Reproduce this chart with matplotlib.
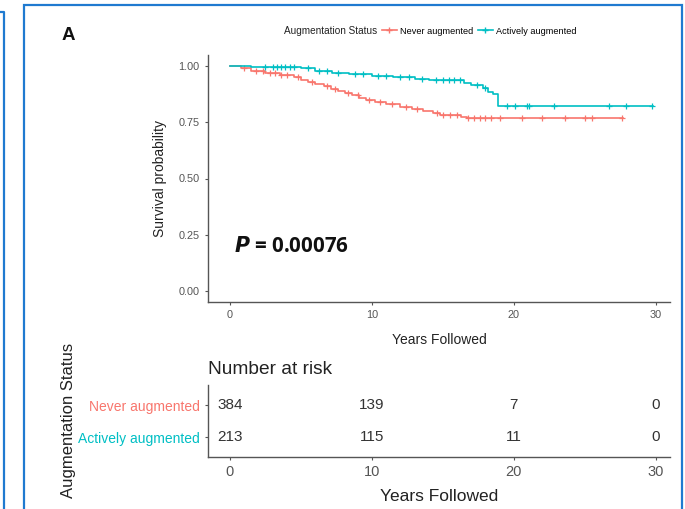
import matplotlib
matplotlib.use("Agg")
import matplotlib.pyplot as plt
from matplotlib.lines import Line2D
from matplotlib.patches import Rectangle

plt.rcParams['font.family'] = ['Liberation Sans', 'DejaVu Sans']

RED = '#F8766D'
TEAL = '#00BFC4'
AXIS = '#555555'

groups = ["Never augmented", "Actively augmented"]

# Kaplan-Meier steps: (years, survival) for each group
never_t = [0, 0.8, 1.5, 2.5, 3.5, 4.5, 5.0, 5.5, 6.0, 6.6, 7.1, 7.6, 8.1, 8.6,
           9.1, 9.6, 10.2, 11.0, 12.0, 12.8, 13.6, 14.3, 14.8, 16.3, 16.7, 27.7]
never_s = [1.0, 0.99, 0.98, 0.97, 0.96, 0.95, 0.94, 0.93, 0.92, 0.91, 0.90, 0.89,
           0.88, 0.87, 0.86, 0.85, 0.84, 0.83, 0.82, 0.81, 0.80, 0.79, 0.785,
           0.775, 0.77, 0.77]
active_t = [0, 1.5, 5.0, 6.0, 7.2, 8.4, 10.0, 11.5, 13.0, 14.0, 16.5, 17.0, 17.8,
            18.2, 18.5, 18.9, 29.8]
active_s = [1.0, 0.995, 0.99, 0.98, 0.97, 0.965, 0.955, 0.95, 0.945, 0.94, 0.925,
            0.915, 0.905, 0.885, 0.875, 0.825, 0.825]

# censoring times
never_cens = [1.0, 1.8, 2.3, 2.8, 3.2, 3.6, 4.0, 4.8, 5.8, 6.8, 7.4, 8.3, 9.0, 9.8,
              10.6, 11.4, 12.4, 13.2, 14.6, 15.0, 15.5, 16.0, 16.8, 17.2, 17.6,
              18.0, 18.4, 19.0, 20.6, 22.0, 23.6, 25.0, 25.5, 27.6]
active_cens = [2.5, 3.0, 3.3, 3.6, 3.9, 4.2, 4.5, 5.5, 6.3, 6.8, 7.6, 8.8, 9.4, 10.4,
               11.0, 12.0, 12.6, 13.5, 14.5, 15.0, 15.4, 15.8, 16.2, 17.4, 18.0,
               19.5, 20.1, 20.9, 21.1, 22.8, 26.7, 27.9, 29.7]

risk_years = [0, 10, 20, 30]
never_risk = [384, 139, 7, 0]
active_risk = [213, 115, 11, 0]


def surv_at(times, surv, t):
    val = surv[0]
    for ti, si in zip(times, surv):
        if ti <= t:
            val = si
    return val


def style_axes(ax):
    for side in ['top', 'right']:
        ax.spines[side].set_visible(False)
    for side in ['left', 'bottom']:
        ax.spines[side].set_color(AXIS)
        ax.spines[side].set_linewidth(1.0)
    ax.tick_params(colors=AXIS, length=2.5, width=0.8)


W, H = 685, 509
fig = plt.figure(figsize=(W / 100, H / 100), dpi=100)

# panel frames
fig.add_artist(Rectangle((24 / W, -0.05), 658 / W, 1.05 - 5 / H, transform=fig.transFigure,
                         fill=False, edgecolor='#1f7ad0', linewidth=1.6))
fig.add_artist(Line2D([0, 4 / W, 4 / W], [1 - 12 / H, 1 - 12 / H, 0],
                      transform=fig.transFigure, color='#1f7ad0', linewidth=1.6))

# survival curves
ax = fig.add_axes([208 / W, 1 - 302 / H, 462 / W, 247 / H])
for t, s, cens, col in [(never_t, never_s, never_cens, RED),
                        (active_t, active_s, active_cens, TEAL)]:
    ax.step(t, s, where='post', color=col, linewidth=1.2)
    ax.plot(cens, [surv_at(t, s, c) for c in cens], linestyle='none', marker='+',
            color=col, markersize=4, markeredgewidth=0.9)
ax.set_xlim(-1.55, 31)
ax.set_ylim(-0.05, 1.05)
ax.set_xticks([0, 10, 20, 30])
ax.set_yticks([0, 0.25, 0.5, 0.75, 1.0])
ax.set_yticklabels(['0.00', '0.25', '0.50', '0.75', '1.00'])
style_axes(ax)
ax.tick_params(labelsize=7.8)
ax.set_xlabel('Years Followed', fontsize=10, color='#222222', labelpad=9)
ax.set_ylabel('Survival probability', fontsize=10, color='#222222', labelpad=8)
ax.text(0.3, 0.195, r'$\bfit{P}$' + ' = 0.00076', fontsize=14.8, fontweight='bold',
        family='Open Sans', color='#111111', va='center')

# legend
fig.text(284 / W, 1 - 31 / H, 'Augmentation Status', fontsize=7.2, color='#222222', va='center')
handles = [Line2D([], [], color=RED, linewidth=1.2, marker='+', markersize=4),
           Line2D([], [], color=TEAL, linewidth=1.2, marker='+', markersize=4)]
fig.legend(handles, groups, loc='center left', bbox_to_anchor=(382 / W, 1 - 31 / H),
           ncol=2, frameon=False, fontsize=6.6, handlelength=1.6, handletextpad=0.4,
           columnspacing=0.5, borderaxespad=0, borderpad=0)

fig.text(62 / W, 1 - 36 / H, 'A', fontsize=13.5, fontweight='bold', color='#111111', va='center')

# number-at-risk table
tab = fig.add_axes([208 / W, 1 - 457 / H, 462 / W, 72 / H])
tab.set_xlim(-1.55, 31)
tab.set_ylim(0.375, 2.625)
for yrow, counts in [(2, never_risk), (1, active_risk)]:
    for x, n in zip(risk_years, counts):
        tab.text(x, yrow, str(n), ha='center', va='center', fontsize=11, color='#333333')
tab.set_xticks(risk_years)
tab.set_yticks([2, 1])
tab.set_yticklabels(groups, fontsize=10)
style_axes(tab)
for lbl, col in zip(tab.get_yticklabels(), [RED, TEAL]):
    lbl.set_color(col)
tab.tick_params(axis='x', labelsize=10.5)
tab.set_xlabel('Years Followed', fontsize=12.5, color='#222222', labelpad=7)
tab.set_title('Number at risk', loc='left', fontsize=13.8, color='#222222', pad=8)
fig.text(68 / W, 1 - 420 / H, 'Augmentation Status', rotation=90, fontsize=12,
         color='#222222', ha='center', va='center')

fig.savefig('out.png', dpi=100)
